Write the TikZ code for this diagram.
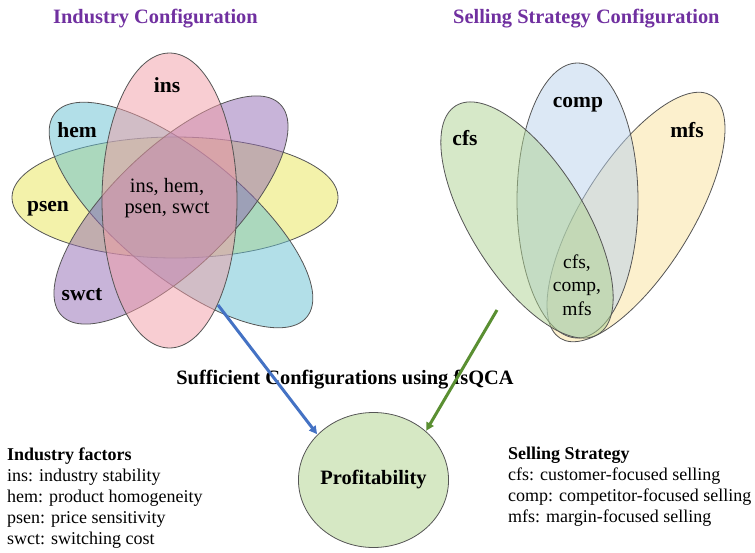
\documentclass[tikz,border=0pt]{standalone}
\usepackage{fontspec}
\setmainfont{Liberation Serif}
\usetikzlibrary{arrows.meta,shapes.geometric}

\definecolor{titlepurple}{RGB}{112,48,160}
\definecolor{vcyan}{RGB}{101,191,209}
\definecolor{vpurple}{RGB}{145,105,179}
\definecolor{vpink}{RGB}{241,155,165}
\definecolor{vyellow}{RGB}{231,229,85}
\definecolor{sgreen}{RGB}{173,209,145}
\definecolor{sblue}{RGB}{185,209,235}
\definecolor{syellow}{RGB}{249,225,155}
\definecolor{profill}{RGB}{214,232,196}
\definecolor{edgegray}{RGB}{85,85,85}
\definecolor{arrowblue}{RGB}{68,114,196}
\definecolor{arrowgreen}{RGB}{90,143,50}

\tikzset{
  setshape/.style={draw=edgegray, line width=0.8pt, fill opacity=0.5, draw opacity=1},
  title/.style={font=\fontsize{20.4}{24}\selectfont\bfseries, text=titlepurple, inner sep=0pt},
  setlabel/.style={font=\fontsize{21.5}{24}\selectfont\bfseries, inner sep=0pt, anchor=base},
  overlap/.style={font=\fontsize{20.4}{21.5}\selectfont, inner sep=0pt, align=center},
  legend/.style={font=\fontsize{18}{21}\selectfont, inner sep=0pt, align=left, anchor=north west},
  flow/.style={line width=3pt, -{Triangle[length=8pt,width=8pt]}, shorten >=0.5pt},
}

\begin{document}
\begin{tikzpicture}[x=1pt,y=1pt]
\useasboundingbox (0,0) rectangle (755,-552);

% headings
\node[title, anchor=base west] (indtitle) at (53,-23) {Industry Configuration};
\node[title, anchor=base west] (selltitle) at (453,-23) {Selling Strategy Configuration};

% industry configuration: four-set Venn diagram (yellow at the bottom, pink on top)
\path[setshape, fill=vyellow] (175,-197.5) ellipse [x radius=163, y radius=60.5];
\path[setshape, fill=vcyan, rotate around={-39:(181,-215)}] (181,-215) ellipse [x radius=162, y radius=62];
\path[setshape, fill=vpurple, rotate around={44:(171,-210)}] (171,-210) ellipse [x radius=152, y radius=60];
\path[setshape, fill=vpink] (169.5,-200.5) ellipse [x radius=67.5, y radius=147.5];

\node[setlabel] (ins) at (167,-92) {ins};
\node[setlabel] (hem) at (77,-137) {hem};
\node[setlabel] (psen) at (48,-211) {psen};
\node[setlabel] (swct) at (82,-300) {swct};
\node[overlap] (indall) at (167,-198) {ins, hem,\\psen, swct};

% selling strategy configuration: three-set Venn diagram (green on top)
\path[setshape, fill=syellow, rotate around={58:(636,-217)}] (636,-217) ellipse [x radius=143, y radius=55];
\path[setshape, fill=sblue] (577.5,-200.5) ellipse [x radius=60.5, y radius=137.5];
\path[setshape, fill=sgreen, rotate around={-58:(527,-220)}] (527,-220) ellipse [x radius=134.6, y radius=57];

\node[setlabel] (comp) at (578,-107) {comp};
\node[setlabel] (cfs) at (465,-145) {cfs};
\node[setlabel] (mfs) at (687,-137) {mfs};
\node[overlap, font=\fontsize{19.5}{23.5}\selectfont] (sellall) at (577,-285) {cfs,\\comp,\\mfs};

% outcome
\node[ellipse, draw=edgegray, line width=0.8pt, fill=profill, minimum width=147pt, minimum height=135pt, inner sep=0pt,
      font=\fontsize{20.4}{24}\selectfont\bfseries] (prof) at (373.5,-480) {Profitability};

\node[font=\fontsize{20.4}{24}\selectfont\bfseries, inner sep=0pt, anchor=base] (method) at (345,-384) {Sufficient Configurations using fsQCA};

% links from the configurations to the outcome
\coordinate (indout) at (218,-305);
\coordinate (sellout) at (497,-310);
\draw[flow, arrowblue] (indout) -- (prof.141);
\draw[flow, arrowgreen] (sellout) -- (prof.43);

% abbreviations
\node[legend] (indlegend) at (7,-448) {\textbf{Industry factors}\\ins: industry stability\\hem: product homogeneity\\psen: price sensitivity\\swct: switching cost};
\node[legend] (selllegend) at (508,-447) {\textbf{Selling Strategy}\\cfs: customer-focused selling\\comp: competitor-focused selling\\mfs: margin-focused selling};
\end{tikzpicture}
\end{document}
